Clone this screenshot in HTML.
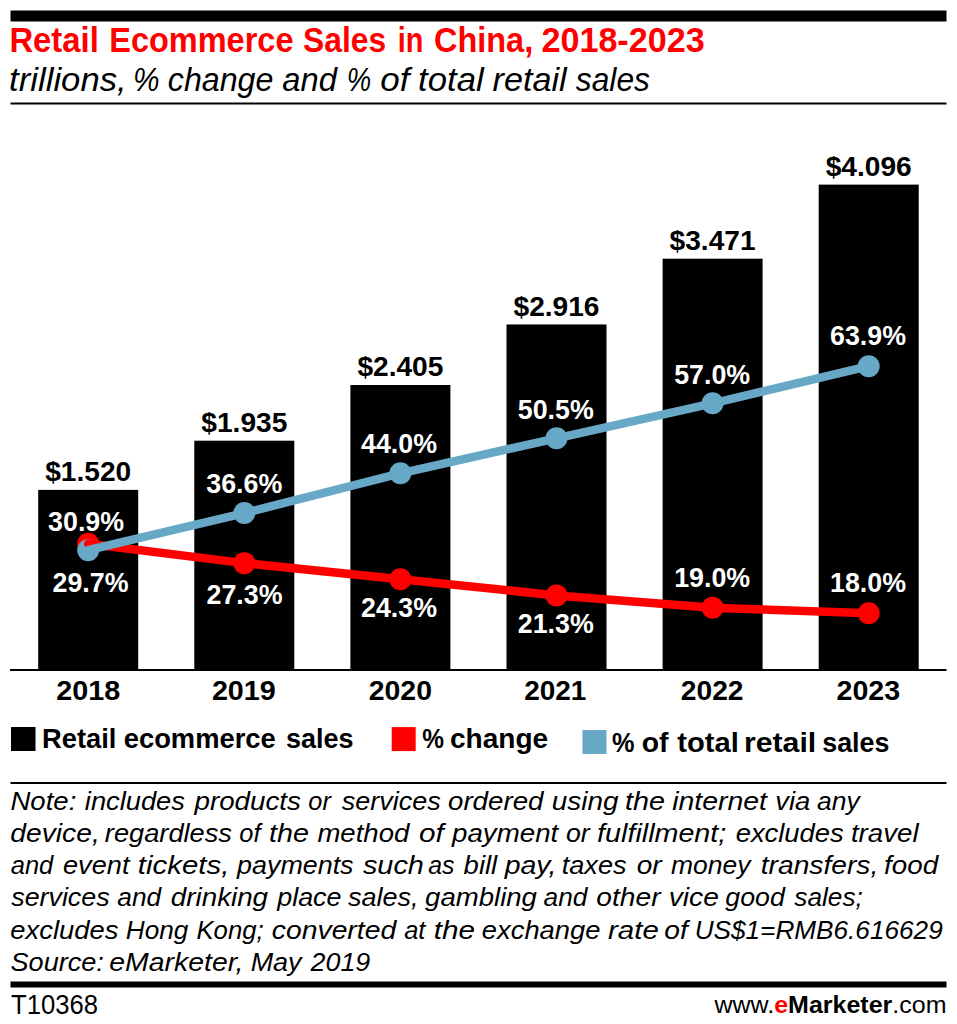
<!DOCTYPE html>
<html><head><meta charset="utf-8"><title>Retail Ecommerce Sales in China, 2018-2023</title>
<style>
html,body{margin:0;padding:0;background:#fff;}
body{width:957px;height:1024px;overflow:hidden;}
svg{display:block;font-family:"Liberation Sans", sans-serif;}
</style></head><body>
<svg width="957" height="1024" viewBox="0 0 957 1024">
<rect width="957" height="1024" fill="#fff"/>
<rect x="10.5" y="10.5" width="936" height="11" fill="#000"/>
<text x="9.4" y="52.1" font-size="34.5" font-weight="bold" font-style="normal" fill="#ff0000" text-anchor="start" textLength="89.42" lengthAdjust="spacingAndGlyphs" >Retail</text>
<text x="109.23" y="52.1" font-size="34.5" font-weight="bold" font-style="normal" fill="#ff0000" text-anchor="start" textLength="184.28" lengthAdjust="spacingAndGlyphs" >Ecommerce</text>
<text x="303.08" y="52.1" font-size="34.5" font-weight="bold" font-style="normal" fill="#ff0000" text-anchor="start" textLength="83.02" lengthAdjust="spacingAndGlyphs" >Sales</text>
<text x="397.69" y="52.1" font-size="34.5" font-weight="bold" font-style="normal" fill="#ff0000" text-anchor="start" textLength="25.6" lengthAdjust="spacingAndGlyphs" >in</text>
<text x="433.97" y="52.1" font-size="34.5" font-weight="bold" font-style="normal" fill="#ff0000" text-anchor="start" textLength="99.2" lengthAdjust="spacingAndGlyphs" >China,</text>
<text x="541.42" y="52.1" font-size="34.5" font-weight="bold" font-style="normal" fill="#ff0000" text-anchor="start" textLength="163.32" lengthAdjust="spacingAndGlyphs" >2018-2023</text>
<text x="9.13" y="90.5" font-size="32.5" font-weight="normal" font-style="italic" fill="#000" text-anchor="start" textLength="117.5" lengthAdjust="spacingAndGlyphs" >trillions,</text>
<text x="132.88" y="90.5" font-size="32.5" font-weight="normal" font-style="italic" fill="#000" text-anchor="start" textLength="26.5" lengthAdjust="spacingAndGlyphs" >%</text>
<text x="167.85" y="90.5" font-size="32.5" font-weight="normal" font-style="italic" fill="#000" text-anchor="start" textLength="105.55" lengthAdjust="spacingAndGlyphs" >change</text>
<text x="282.27" y="90.5" font-size="32.5" font-weight="normal" font-style="italic" fill="#000" text-anchor="start" textLength="54.57" lengthAdjust="spacingAndGlyphs" >and</text>
<text x="346.74" y="90.5" font-size="32.5" font-weight="normal" font-style="italic" fill="#000" text-anchor="start" textLength="24.44" lengthAdjust="spacingAndGlyphs" >%</text>
<text x="380.35" y="90.5" font-size="32.5" font-weight="normal" font-style="italic" fill="#000" text-anchor="start" textLength="29.22" lengthAdjust="spacingAndGlyphs" >of</text>
<text x="418.12" y="90.5" font-size="32.5" font-weight="normal" font-style="italic" fill="#000" text-anchor="start" textLength="65.6" lengthAdjust="spacingAndGlyphs" >total</text>
<text x="492.63" y="90.5" font-size="32.5" font-weight="normal" font-style="italic" fill="#000" text-anchor="start" textLength="74.1" lengthAdjust="spacingAndGlyphs" >retail</text>
<text x="575.82" y="90.5" font-size="32.5" font-weight="normal" font-style="italic" fill="#000" text-anchor="start" textLength="74.13" lengthAdjust="spacingAndGlyphs" >sales</text>
<rect x="10.5" y="102.5" width="936" height="2" fill="#000"/>
<rect x="38.20" y="489.88" width="100" height="180.12" fill="#000"/>
<rect x="194.30" y="440.70" width="100" height="229.30" fill="#000"/>
<rect x="350.40" y="385.01" width="100" height="284.99" fill="#000"/>
<rect x="506.50" y="324.45" width="100" height="345.55" fill="#000"/>
<rect x="662.60" y="258.69" width="100" height="411.31" fill="#000"/>
<rect x="818.70" y="184.62" width="100" height="485.38" fill="#000"/>
<rect x="10" y="669" width="936.5" height="2" fill="#000"/>
<circle cx="88.20" cy="543.76" r="11" fill="#ff0000"/>
<circle cx="244.30" cy="563.13" r="11" fill="#ff0000"/>
<circle cx="400.40" cy="579.27" r="11" fill="#ff0000"/>
<circle cx="556.50" cy="595.41" r="11" fill="#ff0000"/>
<circle cx="712.60" cy="607.78" r="11" fill="#ff0000"/>
<circle cx="868.70" cy="613.16" r="11" fill="#ff0000"/>
<circle cx="88.20" cy="550.21" r="11" fill="#68a8c7"/>
<circle cx="244.30" cy="513.09" r="11" fill="#68a8c7"/>
<circle cx="400.40" cy="473.28" r="11" fill="#68a8c7"/>
<circle cx="556.50" cy="438.31" r="11" fill="#68a8c7"/>
<circle cx="712.60" cy="403.34" r="11" fill="#68a8c7"/>
<circle cx="868.70" cy="366.22" r="11" fill="#68a8c7"/>
<polyline points="88.20,543.76 244.30,563.13 400.40,579.27 556.50,595.41 712.60,607.78 868.70,613.16" fill="none" stroke="#ff0000" stroke-width="8.5" stroke-linejoin="round" stroke-linecap="round"/>
<polyline points="88.20,550.21 244.30,513.09 400.40,473.28 556.50,438.31 712.60,403.34 868.70,366.22" fill="none" stroke="#68a8c7" stroke-width="8.5" stroke-linejoin="round" stroke-linecap="round"/>
<text x="88.20" y="481.08" font-size="28.5" font-weight="bold" font-style="normal" fill="#000" text-anchor="middle" textLength="86" lengthAdjust="spacingAndGlyphs" >$1.520</text>
<text x="244.30" y="431.90" font-size="28.5" font-weight="bold" font-style="normal" fill="#000" text-anchor="middle" textLength="86" lengthAdjust="spacingAndGlyphs" >$1.935</text>
<text x="400.40" y="376.21" font-size="28.5" font-weight="bold" font-style="normal" fill="#000" text-anchor="middle" textLength="86" lengthAdjust="spacingAndGlyphs" >$2.405</text>
<text x="556.50" y="315.65" font-size="28.5" font-weight="bold" font-style="normal" fill="#000" text-anchor="middle" textLength="86" lengthAdjust="spacingAndGlyphs" >$2.916</text>
<text x="712.60" y="249.89" font-size="28.5" font-weight="bold" font-style="normal" fill="#000" text-anchor="middle" textLength="86" lengthAdjust="spacingAndGlyphs" >$3.471</text>
<text x="868.70" y="175.82" font-size="28.5" font-weight="bold" font-style="normal" fill="#000" text-anchor="middle" textLength="86" lengthAdjust="spacingAndGlyphs" >$4.096</text>
<text x="86.1" y="530.5" font-size="27.5" font-weight="bold" font-style="normal" fill="#fff" text-anchor="middle" textLength="76" lengthAdjust="spacingAndGlyphs" >30.9%</text>
<text x="90.5" y="591.5" font-size="27.5" font-weight="bold" font-style="normal" fill="#fff" text-anchor="middle" textLength="76" lengthAdjust="spacingAndGlyphs" >29.7%</text>
<text x="244.3" y="492.6" font-size="27.5" font-weight="bold" font-style="normal" fill="#fff" text-anchor="middle" textLength="76" lengthAdjust="spacingAndGlyphs" >36.6%</text>
<text x="244.5" y="604" font-size="27.5" font-weight="bold" font-style="normal" fill="#fff" text-anchor="middle" textLength="76" lengthAdjust="spacingAndGlyphs" >27.3%</text>
<text x="399" y="452.8" font-size="27.5" font-weight="bold" font-style="normal" fill="#fff" text-anchor="middle" textLength="76" lengthAdjust="spacingAndGlyphs" >44.0%</text>
<text x="399" y="616.8" font-size="27.5" font-weight="bold" font-style="normal" fill="#fff" text-anchor="middle" textLength="76" lengthAdjust="spacingAndGlyphs" >24.3%</text>
<text x="555.8" y="419" font-size="27.5" font-weight="bold" font-style="normal" fill="#fff" text-anchor="middle" textLength="76" lengthAdjust="spacingAndGlyphs" >50.5%</text>
<text x="555.8" y="632.8" font-size="27.5" font-weight="bold" font-style="normal" fill="#fff" text-anchor="middle" textLength="76" lengthAdjust="spacingAndGlyphs" >21.3%</text>
<text x="712.2" y="384" font-size="27.5" font-weight="bold" font-style="normal" fill="#fff" text-anchor="middle" textLength="76" lengthAdjust="spacingAndGlyphs" >57.0%</text>
<text x="712.2" y="586.7" font-size="27.5" font-weight="bold" font-style="normal" fill="#fff" text-anchor="middle" textLength="76" lengthAdjust="spacingAndGlyphs" >19.0%</text>
<text x="868" y="345" font-size="27.5" font-weight="bold" font-style="normal" fill="#fff" text-anchor="middle" textLength="76" lengthAdjust="spacingAndGlyphs" >63.9%</text>
<text x="868" y="592.3" font-size="27.5" font-weight="bold" font-style="normal" fill="#fff" text-anchor="middle" textLength="76" lengthAdjust="spacingAndGlyphs" >18.0%</text>
<text x="56.2" y="699.8" font-size="28" font-weight="bold" font-style="normal" fill="#000" text-anchor="start" textLength="64.08" lengthAdjust="spacingAndGlyphs" >2018</text>
<text x="211.9" y="699.8" font-size="28" font-weight="bold" font-style="normal" fill="#000" text-anchor="start" textLength="63.86" lengthAdjust="spacingAndGlyphs" >2019</text>
<text x="368.71" y="699.8" font-size="28" font-weight="bold" font-style="normal" fill="#000" text-anchor="start" textLength="63.25" lengthAdjust="spacingAndGlyphs" >2020</text>
<text x="524.13" y="699.8" font-size="28" font-weight="bold" font-style="normal" fill="#000" text-anchor="start" textLength="62.25" lengthAdjust="spacingAndGlyphs" >2021</text>
<text x="680.82" y="699.8" font-size="28" font-weight="bold" font-style="normal" fill="#000" text-anchor="start" textLength="62.71" lengthAdjust="spacingAndGlyphs" >2022</text>
<text x="836.51" y="699.8" font-size="28" font-weight="bold" font-style="normal" fill="#000" text-anchor="start" textLength="63.62" lengthAdjust="spacingAndGlyphs" >2023</text>
<rect x="11" y="727" width="24.5" height="24" fill="#000"/>
<text x="41.97" y="747.6" font-size="28" font-weight="bold" font-style="normal" fill="#000" text-anchor="start" textLength="74.47" lengthAdjust="spacingAndGlyphs" >Retail</text>
<text x="123.73" y="747.6" font-size="28" font-weight="bold" font-style="normal" fill="#000" text-anchor="start" textLength="152.0" lengthAdjust="spacingAndGlyphs" >ecommerce</text>
<text x="285.95" y="747.6" font-size="28" font-weight="bold" font-style="normal" fill="#000" text-anchor="start" textLength="67.56" lengthAdjust="spacingAndGlyphs" >sales</text>
<text x="422.19" y="747.6" font-size="28" font-weight="bold" font-style="normal" fill="#000" text-anchor="start" textLength="21.75" lengthAdjust="spacingAndGlyphs" >%</text>
<text x="449.9" y="747.6" font-size="28" font-weight="bold" font-style="normal" fill="#000" text-anchor="start" textLength="98.26" lengthAdjust="spacingAndGlyphs" >change</text>
<text x="611.97" y="751.6" font-size="28" font-weight="bold" font-style="normal" fill="#000" text-anchor="start" textLength="22.5" lengthAdjust="spacingAndGlyphs" >%</text>
<text x="641.79" y="751.6" font-size="28" font-weight="bold" font-style="normal" fill="#000" text-anchor="start" textLength="26.75" lengthAdjust="spacingAndGlyphs" >of</text>
<text x="677.34" y="751.6" font-size="28" font-weight="bold" font-style="normal" fill="#000" text-anchor="start" textLength="61.52" lengthAdjust="spacingAndGlyphs" >total</text>
<text x="743.91" y="751.6" font-size="28" font-weight="bold" font-style="normal" fill="#000" text-anchor="start" textLength="72.34" lengthAdjust="spacingAndGlyphs" >retail</text>
<text x="822.26" y="751.6" font-size="28" font-weight="bold" font-style="normal" fill="#000" text-anchor="start" textLength="67.14" lengthAdjust="spacingAndGlyphs" >sales</text>
<rect x="391.7" y="727.1" width="24" height="24" fill="#ff0000"/>
<rect x="582.5" y="730" width="24" height="24" fill="#68a8c7"/>
<rect x="10.5" y="782" width="936" height="2" fill="#000"/>
<text x="10.45" y="809.50" font-size="26.5" font-weight="normal" font-style="italic" fill="#000" text-anchor="start" textLength="65.85" lengthAdjust="spacingAndGlyphs" >Note:</text>
<text x="84.86" y="809.50" font-size="26.5" font-weight="normal" font-style="italic" fill="#000" text-anchor="start" textLength="100.0" lengthAdjust="spacingAndGlyphs" >includes</text>
<text x="194.49" y="809.50" font-size="26.5" font-weight="normal" font-style="italic" fill="#000" text-anchor="start" textLength="106.48" lengthAdjust="spacingAndGlyphs" >products</text>
<text x="308.37" y="809.50" font-size="26.5" font-weight="normal" font-style="italic" fill="#000" text-anchor="start" textLength="22.48" lengthAdjust="spacingAndGlyphs" >or</text>
<text x="341.73" y="809.50" font-size="26.5" font-weight="normal" font-style="italic" fill="#000" text-anchor="start" textLength="98.92" lengthAdjust="spacingAndGlyphs" >services</text>
<text x="447.99" y="809.50" font-size="26.5" font-weight="normal" font-style="italic" fill="#000" text-anchor="start" textLength="95.48" lengthAdjust="spacingAndGlyphs" >ordered</text>
<text x="551.83" y="809.50" font-size="26.5" font-weight="normal" font-style="italic" fill="#000" text-anchor="start" textLength="66.61" lengthAdjust="spacingAndGlyphs" >using</text>
<text x="624.99" y="809.50" font-size="26.5" font-weight="normal" font-style="italic" fill="#000" text-anchor="start" textLength="39.97" lengthAdjust="spacingAndGlyphs" >the</text>
<text x="672.24" y="809.50" font-size="26.5" font-weight="normal" font-style="italic" fill="#000" text-anchor="start" textLength="94.77" lengthAdjust="spacingAndGlyphs" >internet</text>
<text x="775.2" y="809.50" font-size="26.5" font-weight="normal" font-style="italic" fill="#000" text-anchor="start" textLength="35.03" lengthAdjust="spacingAndGlyphs" >via</text>
<text x="817.11" y="809.50" font-size="26.5" font-weight="normal" font-style="italic" fill="#000" text-anchor="start" textLength="42.57" lengthAdjust="spacingAndGlyphs" >any</text>
<text x="10.35" y="841.80" font-size="26.5" font-weight="normal" font-style="italic" fill="#000" text-anchor="start" textLength="89.43" lengthAdjust="spacingAndGlyphs" >device,</text>
<text x="104.85" y="841.80" font-size="26.5" font-weight="normal" font-style="italic" fill="#000" text-anchor="start" textLength="127.11" lengthAdjust="spacingAndGlyphs" >regardless</text>
<text x="239.37" y="841.80" font-size="26.5" font-weight="normal" font-style="italic" fill="#000" text-anchor="start" textLength="21.23" lengthAdjust="spacingAndGlyphs" >of</text>
<text x="268.99" y="841.80" font-size="26.5" font-weight="normal" font-style="italic" fill="#000" text-anchor="start" textLength="39.97" lengthAdjust="spacingAndGlyphs" >the</text>
<text x="317.44" y="841.80" font-size="26.5" font-weight="normal" font-style="italic" fill="#000" text-anchor="start" textLength="91.83" lengthAdjust="spacingAndGlyphs" >method</text>
<text x="419.03" y="841.80" font-size="26.5" font-weight="normal" font-style="italic" fill="#000" text-anchor="start" textLength="24.8" lengthAdjust="spacingAndGlyphs" >of</text>
<text x="452.09" y="841.80" font-size="26.5" font-weight="normal" font-style="italic" fill="#000" text-anchor="start" textLength="106.15" lengthAdjust="spacingAndGlyphs" >payment</text>
<text x="565.93" y="841.80" font-size="26.5" font-weight="normal" font-style="italic" fill="#000" text-anchor="start" textLength="23.77" lengthAdjust="spacingAndGlyphs" >or</text>
<text x="597.13" y="841.80" font-size="26.5" font-weight="normal" font-style="italic" fill="#000" text-anchor="start" textLength="129.13" lengthAdjust="spacingAndGlyphs" >fulfillment;</text>
<text x="735.68" y="841.80" font-size="26.5" font-weight="normal" font-style="italic" fill="#000" text-anchor="start" textLength="108.08" lengthAdjust="spacingAndGlyphs" >excludes</text>
<text x="850.94" y="841.80" font-size="26.5" font-weight="normal" font-style="italic" fill="#000" text-anchor="start" textLength="67.63" lengthAdjust="spacingAndGlyphs" >travel</text>
<text x="10.73" y="874.10" font-size="26.5" font-weight="normal" font-style="italic" fill="#000" text-anchor="start" textLength="42.5" lengthAdjust="spacingAndGlyphs" >and</text>
<text x="62.98" y="874.10" font-size="26.5" font-weight="normal" font-style="italic" fill="#000" text-anchor="start" textLength="66.47" lengthAdjust="spacingAndGlyphs" >event</text>
<text x="137.86" y="874.10" font-size="26.5" font-weight="normal" font-style="italic" fill="#000" text-anchor="start" textLength="91.55" lengthAdjust="spacingAndGlyphs" >tickets,</text>
<text x="237.07" y="874.10" font-size="26.5" font-weight="normal" font-style="italic" fill="#000" text-anchor="start" textLength="116.48" lengthAdjust="spacingAndGlyphs" >payments</text>
<text x="362.93" y="874.10" font-size="26.5" font-weight="normal" font-style="italic" fill="#000" text-anchor="start" textLength="61.0" lengthAdjust="spacingAndGlyphs" >such</text>
<text x="428.24" y="874.10" font-size="26.5" font-weight="normal" font-style="italic" fill="#000" text-anchor="start" textLength="26.16" lengthAdjust="spacingAndGlyphs" >as</text>
<text x="463.61" y="874.10" font-size="26.5" font-weight="normal" font-style="italic" fill="#000" text-anchor="start" textLength="33.57" lengthAdjust="spacingAndGlyphs" >bill</text>
<text x="504.71" y="874.10" font-size="26.5" font-weight="normal" font-style="italic" fill="#000" text-anchor="start" textLength="51.59" lengthAdjust="spacingAndGlyphs" >pay,</text>
<text x="561.77" y="874.10" font-size="26.5" font-weight="normal" font-style="italic" fill="#000" text-anchor="start" textLength="64.79" lengthAdjust="spacingAndGlyphs" >taxes</text>
<text x="636.68" y="874.10" font-size="26.5" font-weight="normal" font-style="italic" fill="#000" text-anchor="start" textLength="24.97" lengthAdjust="spacingAndGlyphs" >or</text>
<text x="670.96" y="874.10" font-size="26.5" font-weight="normal" font-style="italic" fill="#000" text-anchor="start" textLength="79.41" lengthAdjust="spacingAndGlyphs" >money</text>
<text x="760.72" y="874.10" font-size="26.5" font-weight="normal" font-style="italic" fill="#000" text-anchor="start" textLength="117.56" lengthAdjust="spacingAndGlyphs" >transfers,</text>
<text x="884.06" y="874.10" font-size="26.5" font-weight="normal" font-style="italic" fill="#000" text-anchor="start" textLength="54.2" lengthAdjust="spacingAndGlyphs" >food</text>
<text x="11.23" y="906.40" font-size="26.5" font-weight="normal" font-style="italic" fill="#000" text-anchor="start" textLength="98.42" lengthAdjust="spacingAndGlyphs" >services</text>
<text x="117.31" y="906.40" font-size="26.5" font-weight="normal" font-style="italic" fill="#000" text-anchor="start" textLength="43.8" lengthAdjust="spacingAndGlyphs" >and</text>
<text x="170.87" y="906.40" font-size="26.5" font-weight="normal" font-style="italic" fill="#000" text-anchor="start" textLength="97.18" lengthAdjust="spacingAndGlyphs" >drinking</text>
<text x="277.27" y="906.40" font-size="26.5" font-weight="normal" font-style="italic" fill="#000" text-anchor="start" textLength="64.23" lengthAdjust="spacingAndGlyphs" >place</text>
<text x="347.93" y="906.40" font-size="26.5" font-weight="normal" font-style="italic" fill="#000" text-anchor="start" textLength="70.5" lengthAdjust="spacingAndGlyphs" >sales,</text>
<text x="425.05" y="906.40" font-size="26.5" font-weight="normal" font-style="italic" fill="#000" text-anchor="start" textLength="111.9" lengthAdjust="spacingAndGlyphs" >gambling</text>
<text x="543.61" y="906.40" font-size="26.5" font-weight="normal" font-style="italic" fill="#000" text-anchor="start" textLength="43.8" lengthAdjust="spacingAndGlyphs" >and</text>
<text x="596.28" y="906.40" font-size="26.5" font-weight="normal" font-style="italic" fill="#000" text-anchor="start" textLength="64.27" lengthAdjust="spacingAndGlyphs" >other</text>
<text x="668.76" y="906.40" font-size="26.5" font-weight="normal" font-style="italic" fill="#000" text-anchor="start" textLength="50.19" lengthAdjust="spacingAndGlyphs" >vice</text>
<text x="725.35" y="906.40" font-size="26.5" font-weight="normal" font-style="italic" fill="#000" text-anchor="start" textLength="59.55" lengthAdjust="spacingAndGlyphs" >good</text>
<text x="794.34" y="906.40" font-size="26.5" font-weight="normal" font-style="italic" fill="#000" text-anchor="start" textLength="68.45" lengthAdjust="spacingAndGlyphs" >sales;</text>
<text x="10.38" y="938.70" font-size="26.5" font-weight="normal" font-style="italic" fill="#000" text-anchor="start" textLength="108.08" lengthAdjust="spacingAndGlyphs" >excludes</text>
<text x="125.8" y="938.70" font-size="26.5" font-weight="normal" font-style="italic" fill="#000" text-anchor="start" textLength="62.53" lengthAdjust="spacingAndGlyphs" >Hong</text>
<text x="196.41" y="938.70" font-size="26.5" font-weight="normal" font-style="italic" fill="#000" text-anchor="start" textLength="67.26" lengthAdjust="spacingAndGlyphs" >Kong;</text>
<text x="271.87" y="938.70" font-size="26.5" font-weight="normal" font-style="italic" fill="#000" text-anchor="start" textLength="124.28" lengthAdjust="spacingAndGlyphs" >converted</text>
<text x="404.23" y="938.70" font-size="26.5" font-weight="normal" font-style="italic" fill="#000" text-anchor="start" textLength="21.19" lengthAdjust="spacingAndGlyphs" >at</text>
<text x="433.75" y="938.70" font-size="26.5" font-weight="normal" font-style="italic" fill="#000" text-anchor="start" textLength="41.35" lengthAdjust="spacingAndGlyphs" >the</text>
<text x="481.88" y="938.70" font-size="26.5" font-weight="normal" font-style="italic" fill="#000" text-anchor="start" textLength="118.53" lengthAdjust="spacingAndGlyphs" >exchange</text>
<text x="608.01" y="938.70" font-size="26.5" font-weight="normal" font-style="italic" fill="#000" text-anchor="start" textLength="50.78" lengthAdjust="spacingAndGlyphs" >rate</text>
<text x="664.28" y="938.70" font-size="26.5" font-weight="normal" font-style="italic" fill="#000" text-anchor="start" textLength="23.58" lengthAdjust="spacingAndGlyphs" >of</text>
<text x="694.64" y="938.70" font-size="26.5" font-weight="normal" font-style="italic" fill="#000" text-anchor="start" textLength="248.09" lengthAdjust="spacingAndGlyphs" >US$1=RMB6.616629</text>
<text x="10.53" y="971.00" font-size="26.5" font-weight="normal" font-style="italic" fill="#000" text-anchor="start" textLength="93.35" lengthAdjust="spacingAndGlyphs" >Source:</text>
<text x="109.34" y="971.00" font-size="26.5" font-weight="normal" font-style="italic" fill="#000" text-anchor="start" textLength="134.16" lengthAdjust="spacingAndGlyphs" >eMarketer,</text>
<text x="250.67" y="971.00" font-size="26.5" font-weight="normal" font-style="italic" fill="#000" text-anchor="start" textLength="50.87" lengthAdjust="spacingAndGlyphs" >May</text>
<text x="310.56" y="971.00" font-size="26.5" font-weight="normal" font-style="italic" fill="#000" text-anchor="start" textLength="59.69" lengthAdjust="spacingAndGlyphs" >2019</text>
<rect x="10.5" y="981.5" width="936" height="6" fill="#000"/>
<text x="11" y="1014" font-size="27" font-weight="normal" font-style="normal" fill="#000" text-anchor="start" textLength="87" lengthAdjust="spacingAndGlyphs" >T10368</text>
<text x="946.5" y="1013" font-size="24" text-anchor="end" textLength="232" lengthAdjust="spacingAndGlyphs"><tspan font-weight="normal">www.</tspan><tspan font-weight="bold" fill="#ff0000">e</tspan><tspan font-weight="bold">Marketer</tspan><tspan font-weight="normal">.com</tspan></text>
</svg>
</body></html>
